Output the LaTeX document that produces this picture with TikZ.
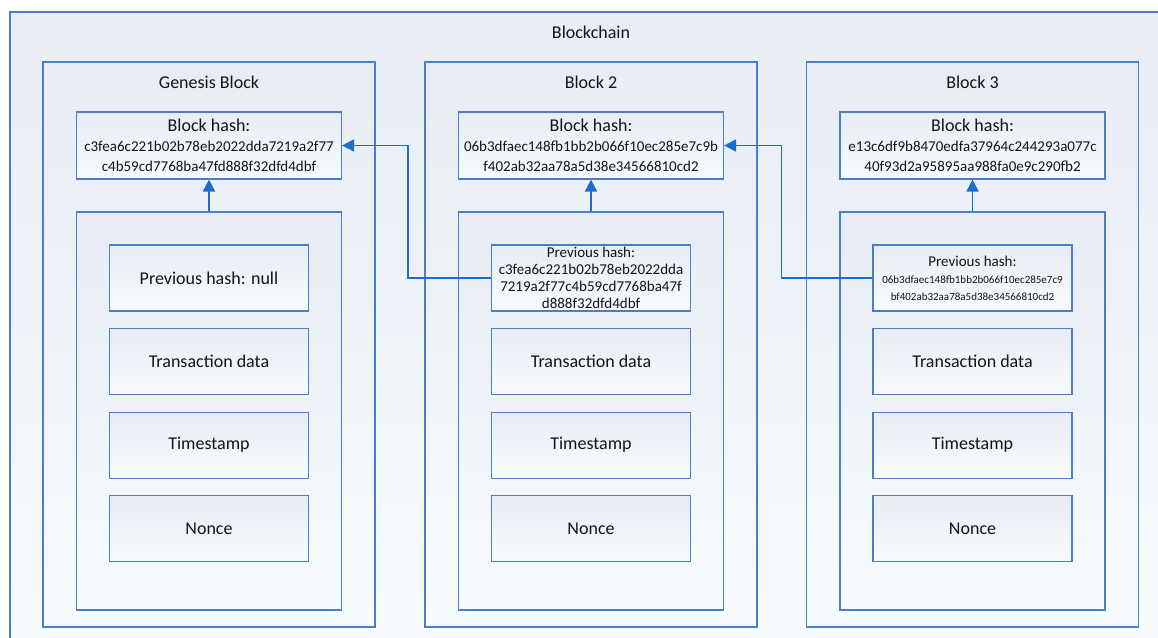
\documentclass[tikz,border=0pt]{standalone}
\usepackage{fontspec}
\setmainfont{Carlito}
\usepackage{tikz}
\usetikzlibrary{arrows.meta,
                positioning}

\definecolor{boxblue}{RGB}{74,126,198}
\definecolor{linkblue}{RGB}{28,108,204}
\definecolor{paneltop}{RGB}{232,236,245}
\definecolor{panelbot}{RGB}{246,251,253}
\definecolor{inktext}{RGB}{20,20,20}

\newcommand{\bigtext}{\fontsize{18}{20}\selectfont}
\newcommand{\hashtext}{\fontsize{15}{20}\selectfont}
\newcommand{\prevtext}{\fontsize{15}{17}\selectfont}
\newcommand{\tinyhash}{\fontsize{11}{17}\selectfont}

\tikzset{
  blockframe/.style={draw=boxblue, line width=1.1pt, top color=paneltop, bottom color=panelbot,
                     rectangle, inner sep=0pt, text=inktext},
  hashbox/.style={blockframe, minimum width=265pt, minimum height=67pt, align=center, font=\hashtext},
  field/.style={blockframe, minimum width=199pt, minimum height=66pt, align=center, font=\bigtext},
  link/.style={draw=linkblue, line width=1.7pt, -{Triangle[length=12pt,width=12pt]}}
}

% one block: name, x position, title, block hash, previous hash, font of previous hash
\newcommand{\chainblock}[6]{%
    \node[blockframe, minimum width=332pt, minimum height=565pt] (#1) at (#2,344.5) {};
    \node[font=\bigtext, text=inktext] (#1title) at (#2,82) {#3};
    \node[hashbox] (#1hash) at (#2,145.5) {{\bigtext Block hash:}\\#4};
    \node[blockframe, minimum width=265pt, minimum height=398pt] (#1sec) at (#2,411) {};
    \node[field, font=#6] (#1prev) at (#2,278) {#5};
    \node[field] (#1tx) [below=16.5pt of #1prev] {Transaction data};
    \node[field] (#1time) [below=16.5pt of #1tx] {Timestamp};
    \node[field] (#1nonce) [below=16.5pt of #1time] {Nonce};
    \draw[link] (#1sec) -- (#1hash);
}

\begin{document}
\begin{tikzpicture}[x=1pt, y=-1pt]
    \useasboundingbox (0,0) rectangle (1158,637);
    \clip (0,0) rectangle (1158,637);

    \node[blockframe, minimum width=1160pt, minimum height=638pt] (chain) at (590,331) {};
    \node[font=\bigtext, text=inktext] (chaintitle) at (591,32) {Blockchain};

    \chainblock{gen}{209}{Genesis Block}
        {c3fea6c221b02b78eb2022dda7219a2f77\\c4b59cd7768ba47fd888f32dfd4dbf}
        {Previous hash: null}{\bigtext}
    \chainblock{two}{591}{Block 2}
        {06b3dfaec148fb1bb2b066f10ec285e7c9b\\f402ab32aa78a5d38e34566810cd2}
        {Previous hash:\\c3fea6c221b02b78eb2022dda\\7219a2f77c4b59cd7768ba47f\\d888f32dfd4dbf}{\prevtext}
    \chainblock{three}{972.5}{Block 3}
        {e13c6df9b8470edfa37964c244293a077c\\40f93d2a95895aa988fa0e9c290fb2}
        {Previous hash:\\{\tinyhash 06b3dfaec148fb1bb2b066f10ec285e7c9}\\{\tinyhash bf402ab32aa78a5d38e34566810cd2}}{\prevtext}

    \draw[link] (twoprev.west) -- ++(-83,0) |- (genhash.east);
    \draw[link] (threeprev.west) -- ++(-91,0) |- (twohash.east);
\end{tikzpicture}
\end{document}
